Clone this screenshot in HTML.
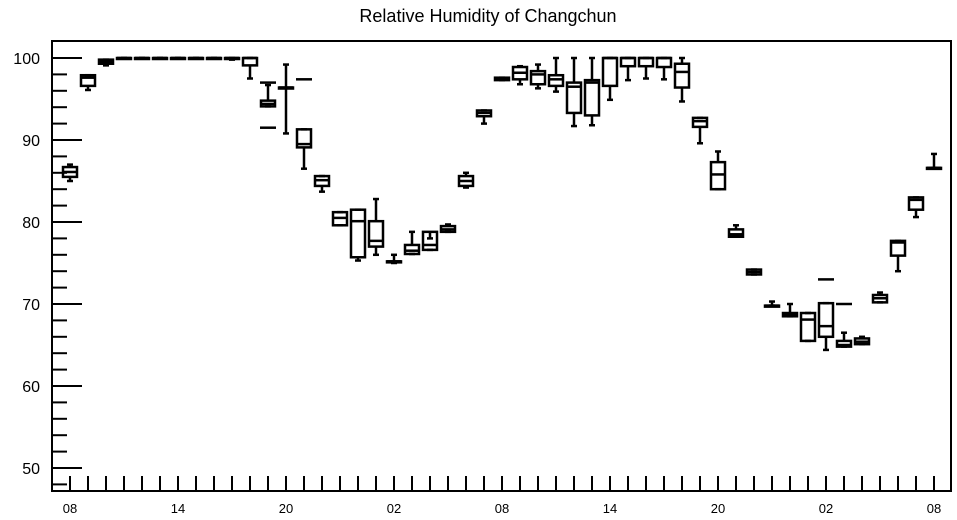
<!DOCTYPE html>
<html><head><meta charset="utf-8"><style>
body{margin:0;background:#fff}
svg{display:block;font-family:"Liberation Sans",sans-serif}
</style></head><body>
<svg id="chart" width="957" height="520">
<text x="488" y="22" text-anchor="middle" font-size="18">Relative Humidity of Changchun</text>
<rect x="52" y="41" width="899" height="450" fill="none" stroke="#000" stroke-width="2"/>
<g id="axes"></g><g id="boxes"></g>
</svg>
<script>
const hours = ["08","09","10","11","12","13","14","15","16","17","18","19","20","21","22","23","00","01","02","03","04","05","06","07","08","09","10","11","12","13","14","15","16","17","18","19","20","21","22","23","00","01","02","03","04","05","06","07","08"];
const whiskerLow = [85,96.1,99.1,100,100,100,100,100,100,99.8,97.5,94.1,90.8,86.5,83.7,79.6,75.3,76,75,76.1,76.6,78.8,84.2,92,97.3,96.8,96.3,95.9,91.7,91.8,94.9,97.3,97.5,97.4,94.7,89.6,84,78.2,73.6,69.8,68.5,65.5,64.4,64.8,65.1,70.2,74,80.6,86.6];
const q1 = [85.5,96.6,99.3,100,100,100,100,100,100,100,99.1,94.1,96.4,89.1,84.4,79.6,75.7,77,75.2,76.1,76.6,78.8,84.4,92.9,97.3,97.4,96.8,96.6,93.3,93,96.6,99,99,98.9,96.4,91.6,84,78.2,73.6,69.8,68.5,65.5,66,64.8,65.1,70.2,75.9,81.5,86.6];
const median = [86.1,97.6,99.6,100,100,100,100,100,100,100,100,94.4,96.4,89.5,85.1,80.5,80.1,77.7,75.2,76.5,77.2,79.1,85,93.3,97.5,98.2,98,97.4,96.5,97,100,100,100,100,98.3,92.3,85.8,78.5,73.9,69.8,68.7,68.1,67.3,65,65.4,70.7,77.5,82.7,86.6];
const q3 = [86.7,97.9,99.8,100,100,100,100,100,100,100,100,94.8,96.4,91.3,85.6,81.2,81.5,80.1,75.2,77.2,78.8,79.5,85.6,93.6,97.6,98.9,98.4,97.9,97,97.3,100,100,100,100,99.3,92.7,87.3,79.1,74.2,69.8,68.9,68.9,70.1,65.5,65.8,71.1,77.7,83,86.6];
const whiskerHigh = [87,97.9,99.8,100,100,100,100,100,100,100,100,96.7,99.2,91.3,85.6,81.2,81.5,82.8,76,78.8,78,79.7,86,93.6,97.6,99,99.2,100,100,100,100,100,100,100,100,92.7,88.6,79.6,74.2,70.3,70,68.9,70.1,66.5,66,71.4,77.7,83,88.3];
const outlierIdx = [11,11,13,42,43];
const outlierVal = [97,91.5,97.4,73,70];
const yTicks = [50,60,70,80,90,100];
const xLabels = ["08","14","20","02","08","14","20","02","08"];

const NS="http://www.w3.org/2000/svg";
const X0=70, DX=18, Y100=58, PPU=8.2;
const xs=i=>X0+i*DX;
const ys=v=>Y100+(100-v)*PPU;
function mk(tag,attrs,parent){const e=document.createElementNS(NS,tag);for(const k in attrs)e.setAttribute(k,attrs[k]);parent.appendChild(e);return e;}
const ax=document.getElementById('axes');
for(let v=48;v<=100;v+=2){
  const major=yTicks.includes(v);
  const t=mk('line',{x1:52,x2:major?82:67,y1:ys(v),y2:ys(v),stroke:'#000','stroke-width':2},ax);
  
  
}
yTicks.forEach(v=>{
  const t=mk('text',{x:40,y:ys(v)+6,'text-anchor':'end','font-size':16},ax);
  t.textContent=v;
  
  
});
hours.forEach((h,i)=>{
  const t=mk('line',{x1:xs(i),x2:xs(i),y1:491,y2:476,stroke:'#000','stroke-width':2},ax);
  
  
});
xLabels.forEach((l,k)=>{
  const t=mk('text',{x:xs(k*6),y:513,'text-anchor':'middle','font-size':13},ax);
  t.textContent=l;
  
  
});
const bx=document.getElementById('boxes');
const W=14;
hours.forEach((h,i)=>{
  const g=mk('g',{stroke:'#000','stroke-width':2.5,fill:'none'},bx);
  
  
  const x=xs(i);
  mk('line',{x1:x,x2:x,y1:ys(whiskerHigh[i]),y2:ys(q3[i])},g);
  mk('line',{x1:x,x2:x,y1:ys(q1[i]),y2:ys(whiskerLow[i])},g);
  mk('line',{x1:x-3,x2:x+3,y1:ys(whiskerHigh[i]),y2:ys(whiskerHigh[i])},g);
  mk('line',{x1:x-3,x2:x+3,y1:ys(whiskerLow[i]),y2:ys(whiskerLow[i])},g);
  const h2=Math.max(ys(q1[i])-ys(q3[i]),1);
  mk('rect',{x:x-W/2,y:ys(q3[i]),width:W,height:h2},g);
  mk('line',{x1:x-W/2,x2:x+W/2,y1:ys(median[i]),y2:ys(median[i])},g);
});
outlierIdx.forEach((idx,k)=>{
  const l=mk('line',{x1:xs(idx)-8,x2:xs(idx)+8,y1:ys(outlierVal[k]),y2:ys(outlierVal[k]),stroke:'#000','stroke-width':2.5},bx);
  
  
});
</script>
</body></html>
